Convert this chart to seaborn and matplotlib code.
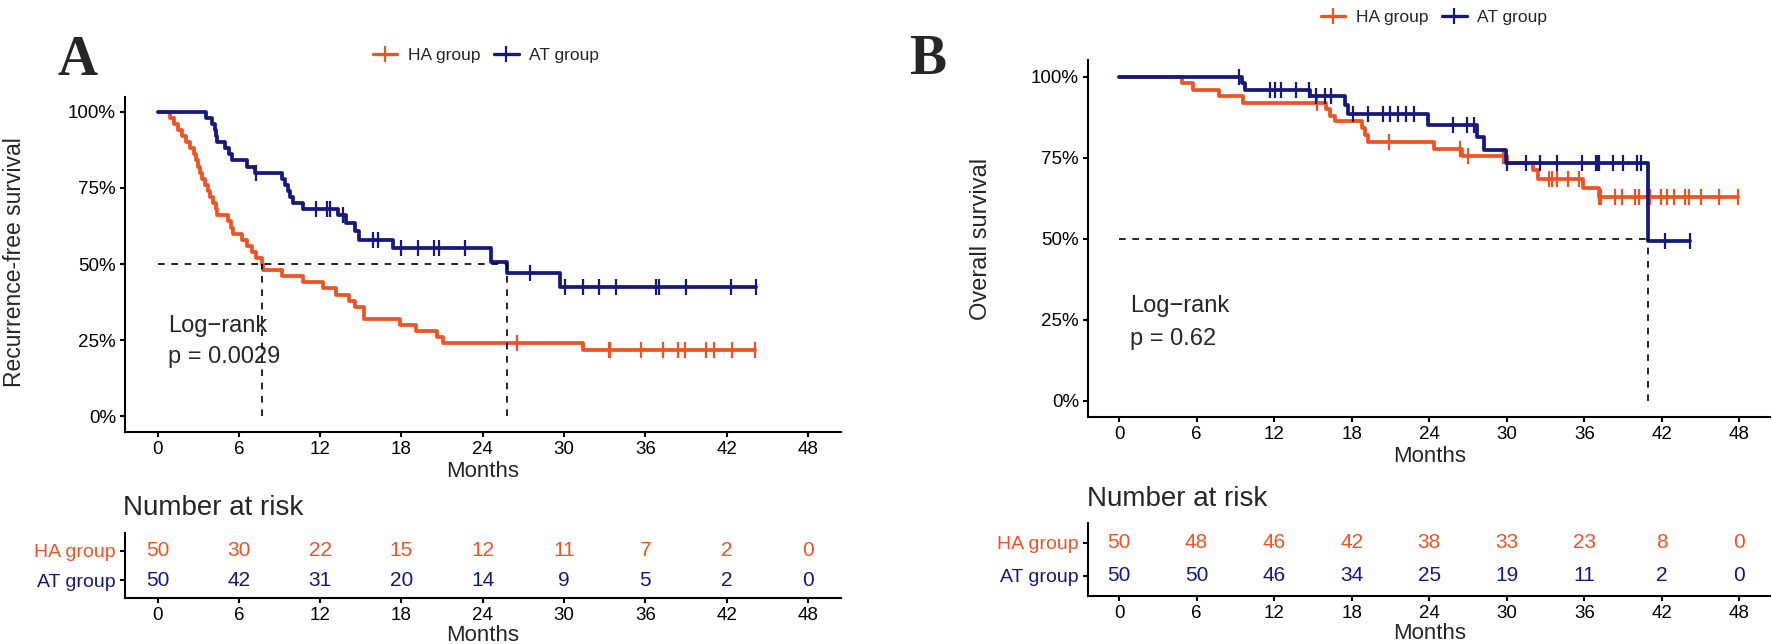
import numpy as np
import matplotlib
matplotlib.use("Agg")
import matplotlib.pyplot as plt
import seaborn as sns
from matplotlib.lines import Line2D

HA_COLOR = "#F05323"
AT_COLOR = "#15197F"

groups = ["HA group", "AT group"]
month_ticks = [0, 6, 12, 18, 24, 30, 36, 42, 48]
surv_ticks = [0, 0.25, 0.5, 0.75, 1.0]
surv_labels = ["0%", "25%", "50%", "75%", "100%"]

# Panel A: recurrence-free survival (step times, level after step, censor times)
rfs_ha_time = [0, 0.9, 1.2, 1.5, 1.8, 2.1, 2.4, 2.7, 2.85, 3.0, 3.1, 3.3, 3.5, 3.7, 3.9, 4.1,
               4.3, 4.4, 5.2, 5.4, 5.6, 6.2, 6.6, 7.0, 7.3, 7.7, 7.8, 9.2, 10.7, 12.2, 13.2,
               14.1, 14.6, 15.2, 17.9, 19.1, 20.6, 21.1, 31.4]
rfs_ha_surv = [1.0, 0.98, 0.96, 0.94, 0.92, 0.90, 0.88, 0.86, 0.84, 0.82, 0.80, 0.78, 0.76,
               0.74, 0.72, 0.70, 0.68, 0.66, 0.64, 0.62, 0.60, 0.58, 0.56, 0.54, 0.52, 0.50,
               0.48, 0.46, 0.44, 0.42, 0.40, 0.38, 0.36, 0.32, 0.30, 0.28, 0.26, 0.24, 0.218]
rfs_ha_cens = [26.5, 33.3, 33.4, 35.7, 37.3, 38.4, 38.9, 40.5, 41.1, 42.4, 44.1]

rfs_at_time = [0, 3.6, 4.0, 4.25, 4.3, 4.4, 5.0, 5.3, 5.5, 6.6, 7.2, 9.2, 9.4, 9.6, 9.8, 10.0,
               10.7, 13.3, 13.9, 14.6, 14.9, 17.4, 24.6, 25.8, 29.7]
rfs_at_surv = [1.0, 0.98, 0.96, 0.94, 0.92, 0.90, 0.88, 0.86, 0.84, 0.82, 0.80, 0.78, 0.76,
               0.74, 0.72, 0.70, 0.68, 0.66, 0.635, 0.61, 0.58, 0.553, 0.507, 0.471, 0.425]
rfs_at_cens = [7.3, 11.7, 12.5, 12.7, 13.7, 15.9, 16.3, 18.0, 19.2, 20.4, 20.8, 22.7, 27.5,
               30.1, 31.4, 32.6, 33.8, 36.8, 37.0, 39.0, 42.3, 44.2]

rfs_risk_ha = [50, 30, 22, 15, 12, 11, 7, 2, 0]
rfs_risk_at = [50, 42, 31, 20, 14, 9, 5, 2, 0]

# Panel B: overall survival
os_ha_time = [0, 4.85, 5.75, 7.7, 9.6, 16.0, 16.3, 16.7, 18.8, 19.0, 19.3, 24.4, 26.5, 30.0,
              32.0, 32.4, 35.9, 37.1]
os_ha_surv = [1.0, 0.98, 0.96, 0.94, 0.92, 0.90, 0.88, 0.862, 0.842, 0.821, 0.80, 0.777,
              0.756, 0.735, 0.713, 0.686, 0.656, 0.629]
os_ha_cens = [15.3, 20.9, 26.4, 27.0, 29.7, 33.3, 33.5, 33.9, 34.7, 35.6, 37.15, 37.2, 37.3,
              38.4, 38.9, 39.9, 40.2, 41.1, 41.9, 42.4, 42.9, 43.8, 44.1, 45.0, 46.4, 47.9]

os_at_time = [0, 9.5, 9.74, 14.8, 17.5, 17.7, 23.9, 27.7, 28.2, 29.9, 40.9]
os_at_surv = [1.0, 0.98, 0.96, 0.94, 0.913, 0.886, 0.852, 0.814, 0.775, 0.733, 0.492]
os_at_cens = [9.3, 11.7, 12.1, 12.5, 13.7, 14.7, 15.2, 15.9, 16.4, 18.1, 19.3, 20.4, 21.0,
              21.6, 22.2, 22.8, 25.8, 26.9, 27.5, 30.0, 31.5, 32.6, 33.9, 35.8, 36.9, 37.0,
              37.1, 38.2, 39.0, 40.1, 40.4, 42.2, 44.2]

os_risk_ha = [50, 48, 46, 42, 38, 33, 23, 8, 0]
os_risk_at = [50, 50, 46, 34, 25, 19, 11, 2, 0]

sns.set_theme(style="ticks")
plt.rcParams['font.family'] = ['Liberation Sans', 'DejaVu Sans']
plt.rcParams['axes.linewidth'] = 1.5
plt.rcParams['xtick.major.width'] = 1.5
plt.rcParams['ytick.major.width'] = 1.5
plt.rcParams['xtick.major.size'] = 3.5
plt.rcParams['ytick.major.size'] = 3.5
plt.rcParams['xtick.color'] = 'black'
plt.rcParams['ytick.color'] = 'black'
plt.rcParams['axes.edgecolor'] = 'black'

XLIM = (-2.4, 50.4)
DASH = (0, (4, 4))


def draw_curve(ax, times, surv, cens, color):
    end = max(max(cens), times[-1])
    x = list(times) + [end]
    y = list(surv) + [surv[-1]]
    sns.lineplot(x=x, y=y, drawstyle='steps-post', estimator=None, sort=False,
                 color=color, lw=2.7, ax=ax)
    idx = np.searchsorted(times, cens, side='right') - 1
    ax.plot(cens, np.array(surv)[idx], linestyle='none', marker='|', ms=11,
            mew=1.6, color=color)


def median_time(times, surv):
    for t, s in zip(times, surv):
        if s <= 0.5:
            return t
    return None


def survival_panel(ax, curves):
    meds = []
    for times, surv, cens, color in curves:
        draw_curve(ax, times, surv, cens, color)
        m = median_time(times, surv)
        if m is not None:
            meds.append(m)
    if meds:
        ax.plot([0, max(meds)], [0.5, 0.5], color='black', lw=1.2, linestyle=DASH)
        for m in meds:
            ax.plot([m, m], [0, 0.5], color='black', lw=1.2, linestyle=DASH)
    ax.set_xlim(*XLIM)
    ax.set_ylim(-0.05, 1.05)
    ax.set_xticks(month_ticks)
    ax.set_yticks(surv_ticks)
    ax.set_yticklabels(surv_labels)
    ax.tick_params(labelsize=13.5, pad=3)
    ax.set_xlabel("Months", fontsize=16, labelpad=2)
    ax.set_ylabel("")
    sns.despine(ax=ax)


def risk_table(ax, risk_ha, risk_at):
    for t, n in zip(month_ticks, risk_ha):
        ax.text(t, 2, str(n), color=HA_COLOR, fontsize=15, ha='center', va='center')
    for t, n in zip(month_ticks, risk_at):
        ax.text(t, 1, str(n), color=AT_COLOR, fontsize=15, ha='center', va='center')
    ax.set_xlim(*XLIM)
    ax.set_ylim(0.4, 2.6)
    ax.set_xticks(month_ticks)
    ax.set_yticks([2, 1])
    ax.set_yticklabels(groups)
    ax.tick_params(axis='x', labelsize=13.5, pad=3)
    ax.tick_params(axis='y', labelsize=14, pad=3)
    for lab, c in zip(ax.get_yticklabels(), [HA_COLOR, AT_COLOR]):
        lab.set_color(c)
    ax.set_xlabel("Months", fontsize=16, labelpad=1)
    sns.despine(ax=ax)


W, H = 1772, 644
fig = plt.figure(figsize=(W / 100, H / 100), dpi=100)


def add_axes_px(x0, x1, y0, y1):
    return fig.add_axes([x0 / W, 1 - y1 / H, (x1 - x0) / W, (y1 - y0) / H])


# Panel A
ax_a = add_axes_px(125, 840.5, 96.5, 431.7)
survival_panel(ax_a, [(rfs_ha_time, rfs_ha_surv, rfs_ha_cens, HA_COLOR),
                      (rfs_at_time, rfs_at_surv, rfs_at_cens, AT_COLOR)])
ax_a.text(0.8, 0.296, "Log\u2212rank", fontsize=17, va='center', ha='left')
ax_a.text(0.8, 0.195, "p = 0.0029", fontsize=17, va='center', ha='left')
fig.text(15 / W, 1 - 262 / H, "Recurrence-free survival", rotation=90, fontsize=16.5,
         ha='center', va='center')

tab_a = add_axes_px(125, 840.5, 533, 598)
risk_table(tab_a, rfs_risk_ha, rfs_risk_at)
fig.text(123 / W, 1 - 508 / H, "Number at risk", fontsize=20, ha='left', va='center')

# Panel B
ax_b = add_axes_px(1088, 1770.5, 60.5, 417.2)
survival_panel(ax_b, [(os_ha_time, os_ha_surv, os_ha_cens, HA_COLOR),
                      (os_at_time, os_at_surv, os_at_cens, AT_COLOR)])
ax_b.text(0.85, 0.293, "Log\u2212rank", fontsize=17, va='center', ha='left')
ax_b.text(0.85, 0.191, "p = 0.62", fontsize=17, va='center', ha='left')
fig.text(981 / W, 1 - 239 / H, "Overall survival", rotation=90, fontsize=17,
         ha='center', va='center')

tab_b = add_axes_px(1088, 1770.5, 523, 595.5)
risk_table(tab_b, os_risk_ha, os_risk_at)
fig.text(1087 / W, 1 - 499 / H, "Number at risk", fontsize=20, ha='left', va='center')

# Legends
handles = [Line2D([], [], color=HA_COLOR, lw=2.4, marker='|', ms=11, mew=1.6),
           Line2D([], [], color=AT_COLOR, lw=2.4, marker='|', ms=11, mew=1.6)]
for cx, cy in [(486, 55), (1434, 17)]:
    fig.legend(handles, groups, loc='center', bbox_to_anchor=(cx / W, 1 - cy / H),
               ncol=2, frameon=False, fontsize=12.5, handlelength=1.4,
               handletextpad=0.6, columnspacing=0.8, borderaxespad=0, borderpad=0)

# Panel letters
fig.text(77.5 / W, 1 - 61 / H, "A", fontsize=40, fontweight='bold',
         family=['Liberation Serif', 'DejaVu Serif'], ha='center', va='center')
fig.text(928 / W, 1 - 60 / H, "B", fontsize=40, fontweight='bold',
         family=['Liberation Serif', 'DejaVu Serif'], ha='center', va='center')

fig.savefig("out.png", dpi=100)
